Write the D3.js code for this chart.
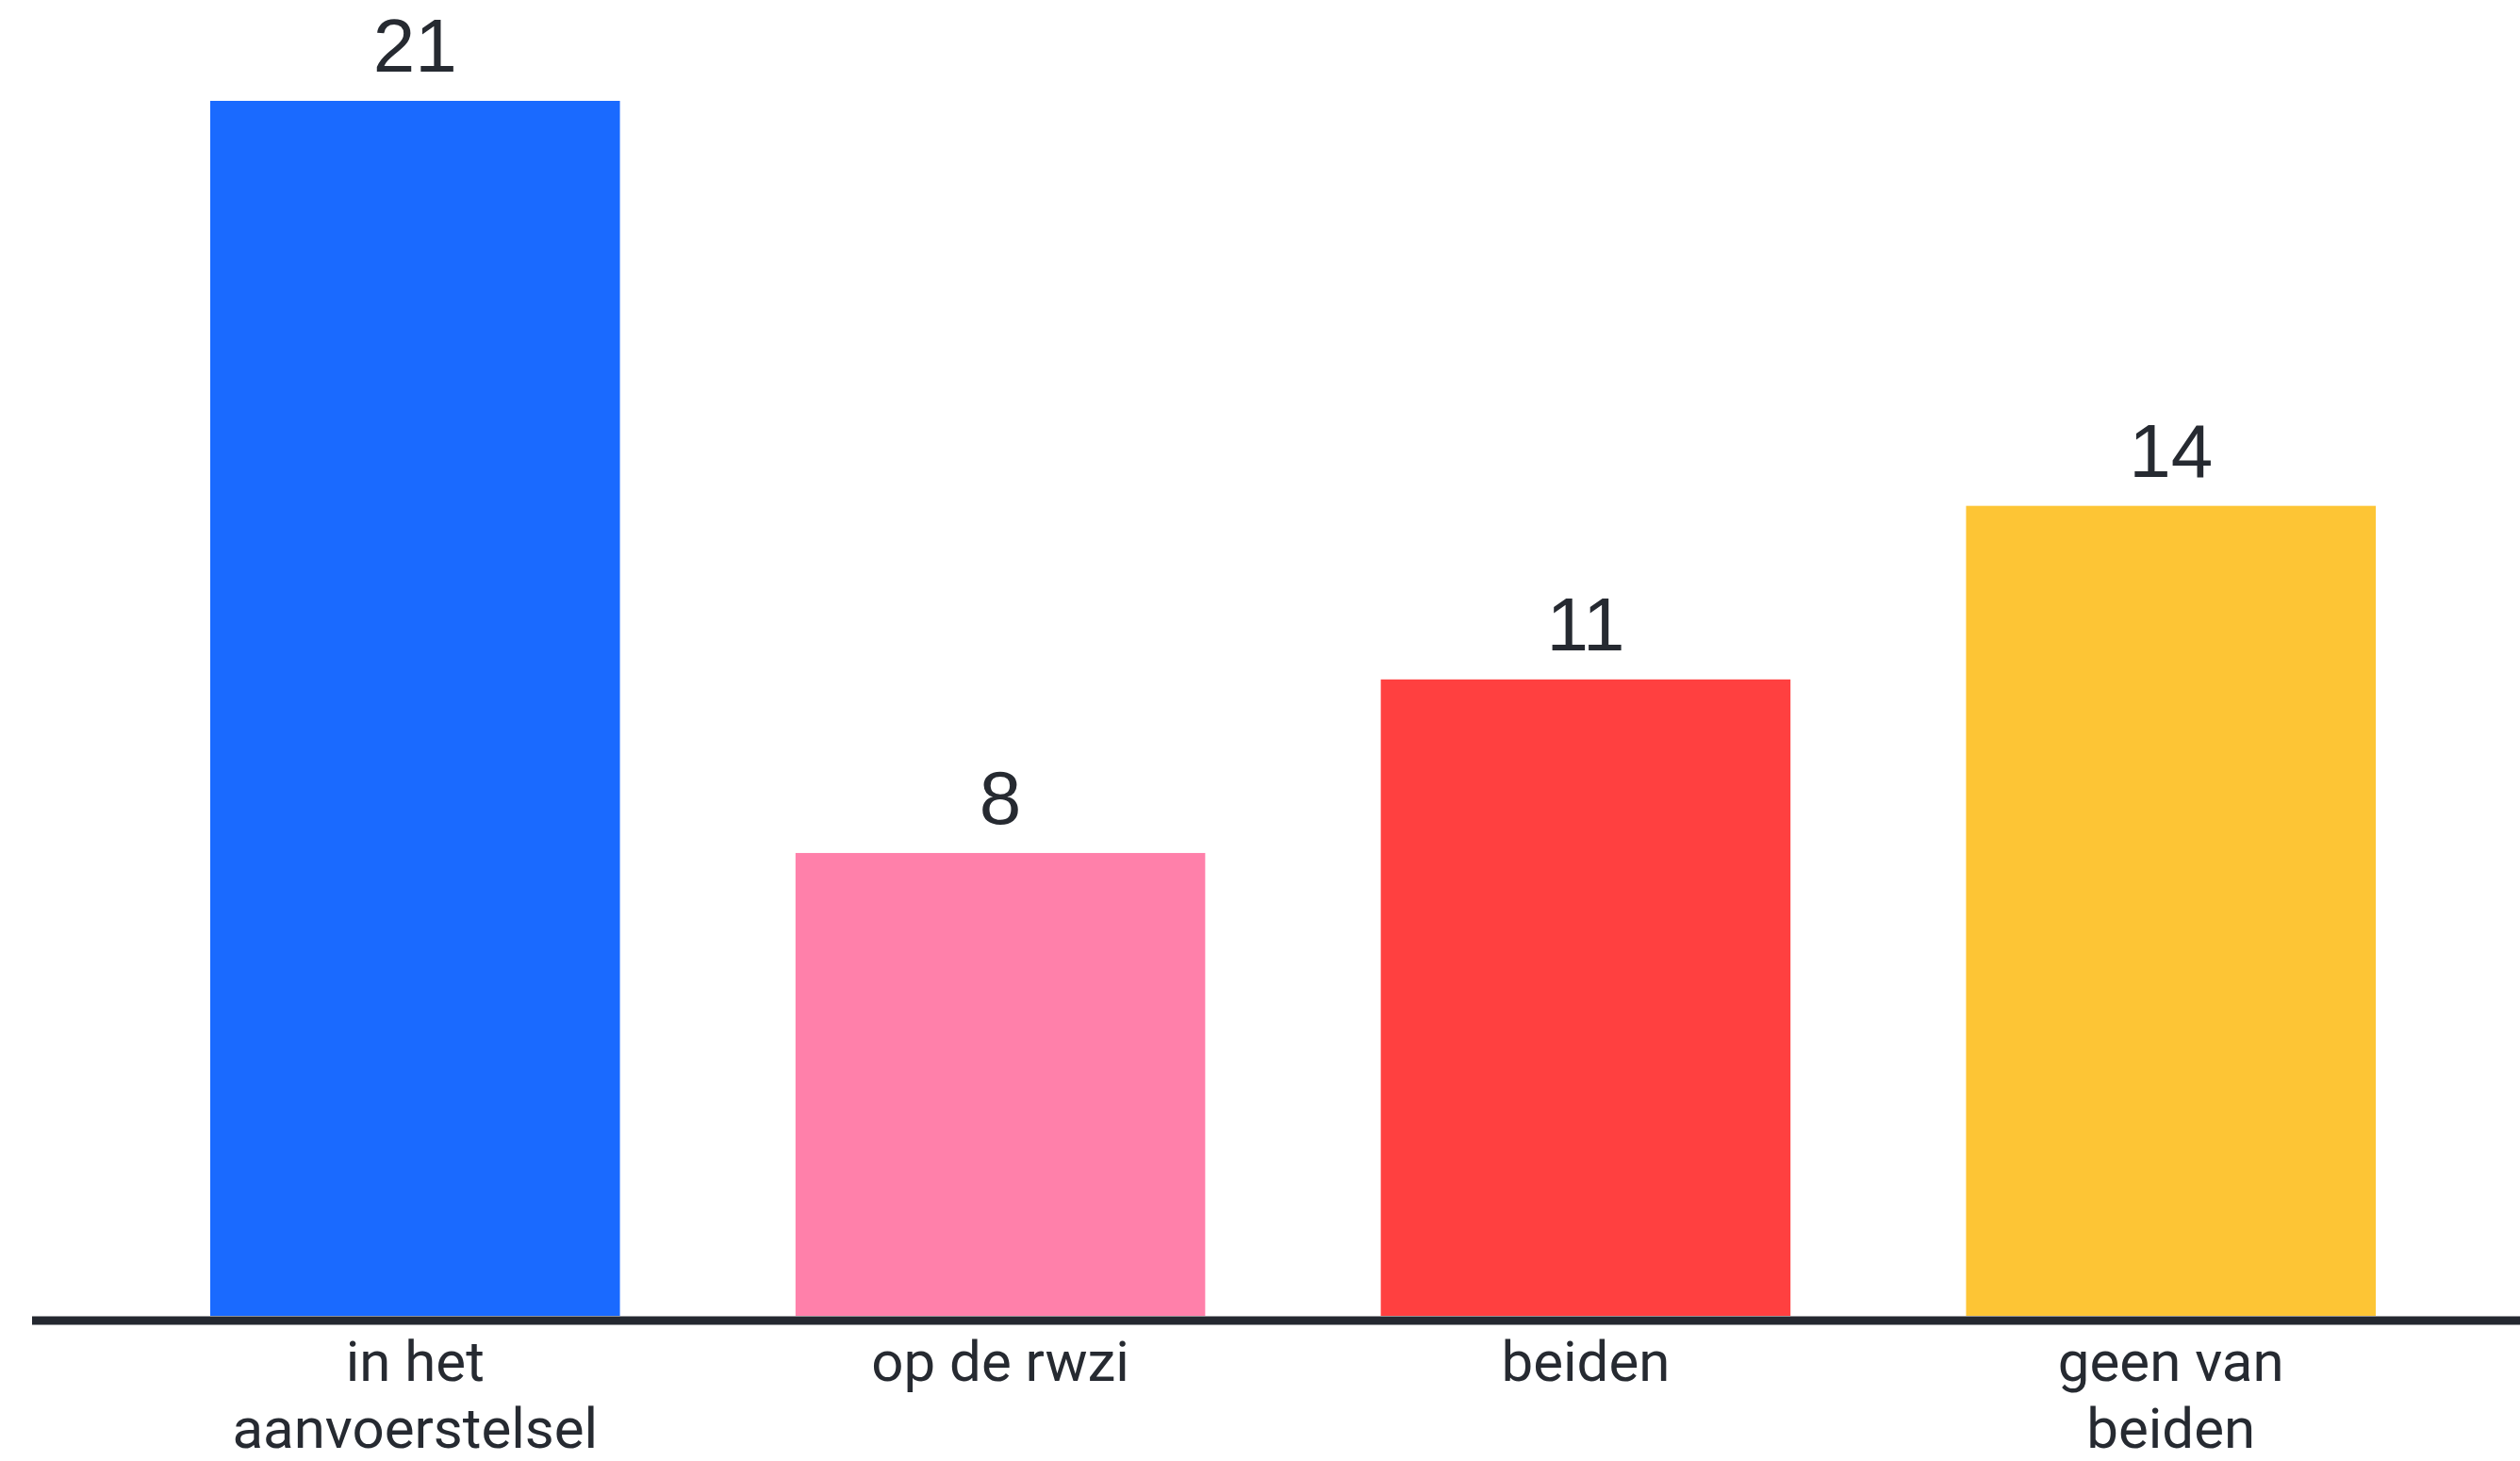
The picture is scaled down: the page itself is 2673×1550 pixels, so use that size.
<!DOCTYPE html>
<html>
<head>
<meta charset="utf-8">
<script src="https://cdn.jsdelivr.net/npm/d3@7"></script>
<style>
  html, body { margin: 0; padding: 0; background: #ffffff; }
  svg { display: block; }
</style>
</head>
<body>
<svg id="chart" width="2673" height="1550"></svg>
<script>
const categories = ["in het aanvoerstelsel", "op de rwzi", "beiden", "geen van beiden"];
const labelLines = [["in het", "aanvoerstelsel"], ["op de rwzi"], ["beiden"], ["geen van", "beiden"]];
const values = [21, 8, 11, 14];
const colors = ["#1a6aff", "#ff80aa", "#ff4040", "#fdc535"];

const W = 2673, H = 1550;
const svg = d3.select("#chart");

const x = d3.scaleBand()
  .domain(categories)
  .range([223, 2520])
  .paddingInner(0.3)
  .paddingOuter(0);

const y = d3.scaleLinear()
  .domain([0, 21])
  .range([1396, 107]);

// bars
svg.append("g").selectAll("rect")
  .data(categories)
  .join("rect")
  .attr("x", d => x(d))
  .attr("y", (d, i) => y(values[i]))
  .attr("width", x.bandwidth())
  .attr("height", (d, i) => y(0) - y(values[i]))
  .attr("fill", (d, i) => colors[i]);

// axis baseline
const axis = d3.axisBottom(x).tickSize(0).tickFormat("");
const axG = svg.append("g").attr("transform", `translate(0,${y(0) + 5})`).call(axis);
axG.select(".domain").remove();
axG.append("line")
  .attr("x1", 34).attr("x2", W)
  .attr("y1", 0).attr("y2", 0)
  .attr("stroke", "#242830").attr("stroke-width", 9);

// value labels
svg.append("g").selectAll("text")
  .data(categories)
  .join("text")
  .attr("x", d => x(d) + x.bandwidth() / 2)
  .attr("y", (d, i) => y(values[i]) - 31)
  .attr("text-anchor", "middle")
  .attr("font-family", "'Liberation Sans', Arial, sans-serif")
  .attr("font-size", 80)
  .attr("fill", "#262a31")
  .text((d, i) => values[i]);

// category labels (one text per line)
const lineData = [];
categories.forEach((c, i) => {
  labelLines[i].forEach((t, j) => lineData.push({c, t, j}));
});
svg.append("g").selectAll("text")
  .data(lineData)
  .join("text")
  .attr("x", d => x(d.c) + x.bandwidth() / 2)
  .attr("y", d => 1465 + d.j * 71)
  .attr("text-anchor", "middle")
  .attr("font-family", "Roboto, 'Open Sans', sans-serif")
  .attr("font-size", 60)
  .attr("fill", "#262a31")
  .text(d => d.t);
</script>
</body>
</html>
